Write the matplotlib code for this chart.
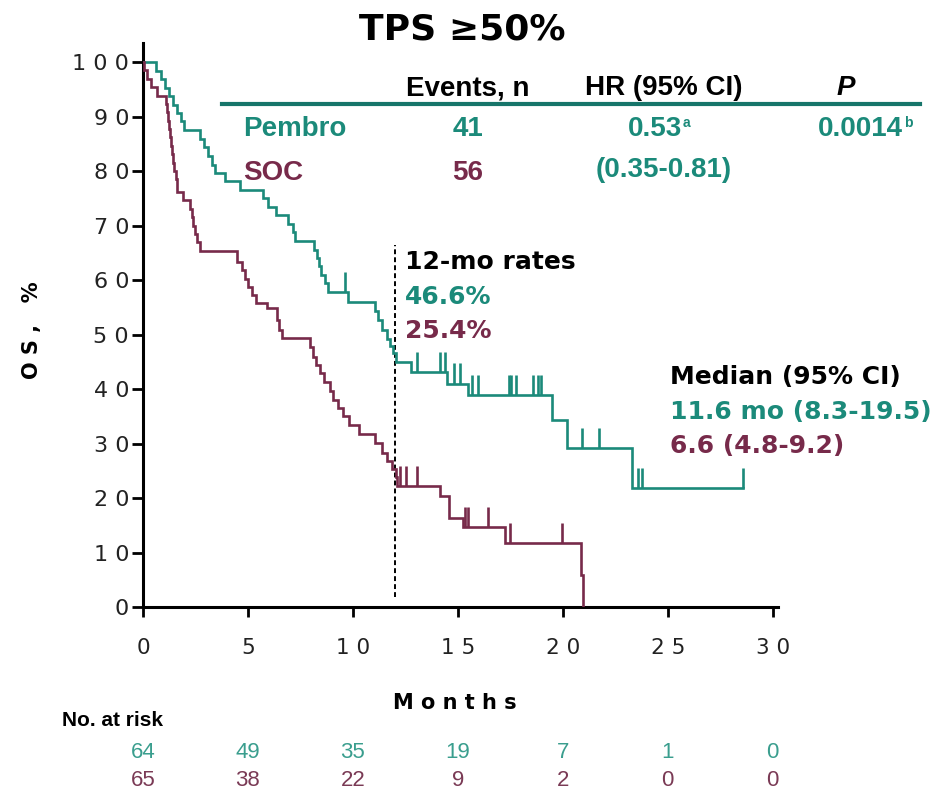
import numpy as np
import matplotlib
matplotlib.use("Agg")
import matplotlib.pyplot as plt
from matplotlib.lines import Line2D
from matplotlib.transforms import blended_transform_factory

W, H = 951, 806

TEAL = "#1b8a7a"
MAROON = "#772a4a"
RULE = "#17756a"
TEAL_RISK = "#3a9e8e"
MAROON_RISK = "#7a3a55"

# Kaplan-Meier steps: time of each change (months) and survival (%) after it
pembro_t = [0, 0.6, 0.85, 1.05, 1.25, 1.45, 1.6, 1.8, 1.95, 2.7, 2.9, 3.1, 3.3,
            3.45, 3.9, 4.6, 5.7, 5.95, 6.35, 6.9, 7.15, 7.25, 8.15, 8.3, 8.4,
            8.5, 8.65, 8.8, 9.76, 11.05, 11.2, 11.4, 11.6, 11.75, 11.9, 12.05,
            12.75, 14.5, 15.5, 19.5, 20.2, 23.3, 28.6]
pembro_s = [100, 98.4, 96.9, 95.3, 93.8, 92.2, 90.6, 89.1, 87.5, 85.9, 84.4,
            82.8, 81.2, 79.7, 78.1, 76.6, 75.0, 73.4, 71.9, 70.3, 68.8, 67.2,
            65.6, 64.1, 62.5, 60.9, 59.4, 57.8, 56.0, 54.3, 52.6, 50.9, 49.2,
            47.9, 46.6, 45.0, 43.1, 41.0, 38.9, 34.3, 29.1, 21.8, 21.8]
pembro_censor = [9.6, 13.03, 14.14, 14.38, 14.8, 15.1, 15.65, 15.95, 17.45,
                 17.55, 17.75, 18.6, 18.8, 18.95, 20.9, 21.7, 23.6, 23.75, 28.6]

soc_t = [0, 0.05, 0.2, 0.4, 0.65, 1.1, 1.15, 1.2, 1.25, 1.3, 1.35, 1.4, 1.45,
         1.5, 1.55, 1.6, 1.92, 2.24, 2.32, 2.4, 2.48, 2.56, 2.7, 4.46, 4.7,
         4.85, 5.0, 5.2, 5.4, 5.9, 6.4, 6.5, 6.6, 7.95, 8.1, 8.25, 8.45, 8.6,
         8.9, 9.06, 9.3, 9.55, 9.8, 10.3, 11.05, 11.4, 11.6, 11.85, 12.05,
         12.12, 14.14, 14.6, 15.25, 17.24, 20.85, 20.95]
soc_s = [100, 98.5, 96.9, 95.4, 93.8, 92.3, 90.8, 89.2, 87.7, 86.2, 84.6, 83.1,
         81.5, 80.0, 78.5, 76.2, 74.6, 73.0, 71.5, 70.0, 68.5, 67.0, 65.4,
         63.4, 61.8, 60.2, 58.8, 57.2, 55.7, 54.8, 52.7, 50.8, 49.3, 47.7,
         45.9, 44.4, 42.9, 41.3, 39.7, 38.0, 36.5, 35.0, 33.4, 31.8, 30.1,
         28.3, 26.8, 25.4, 23.8, 22.2, 20.3, 16.3, 14.7, 11.7, 5.9, 0.0]
soc_censor = [12.25, 12.55, 13.05, 15.35, 15.5, 16.44, 17.48, 19.94]

risk_months = [0, 5, 10, 15, 20, 25, 30]
pembro_risk = [64, 49, 35, 19, 7, 1, 0]
soc_risk = [65, 38, 22, 9, 2, 0, 0]

x_ticks = [0, 5, 10, 15, 20, 25, 30]
y_ticks = [0, 10, 20, 30, 40, 50, 60, 70, 80, 90, 100]

SANS = ["DejaVu Sans"]
ARIAL = ["Liberation Sans", "DejaVu Sans"]

fig = plt.figure(figsize=(W / 100, H / 100), dpi=100)
fig.patch.set_facecolor("white")
ax = fig.add_axes([143 / W, (H - 607) / H, 635 / W, (607 - 43) / H])
ax.set_xlim(0, 30.25)
ax.set_ylim(0, 103.5)


def step_value(t, s, x):
    i = np.searchsorted(t, x, side="right") - 1
    return s[i]


def draw_arm(t, s, cens, color):
    t = np.asarray(t)
    s = np.asarray(s)
    ax.step(t, s, where="post", color=color, lw=1.9, solid_joinstyle="miter",
            zorder=3)
    cy = np.array([step_value(t, s, c) for c in cens])
    ax.vlines(cens, cy, cy + 3.7, color=color, lw=1.9, zorder=3)


draw_arm(pembro_t, pembro_s, pembro_censor, TEAL)
draw_arm(soc_t, soc_s, soc_censor, MAROON)

# 12-month reference line
ax.plot([12, 12], [1.9, 66.4], color="black", lw=1.4, ls=(0, (2.5, 1.6)),
        zorder=2)

for side in ("top", "right"):
    ax.spines[side].set_visible(False)
for side in ("left", "bottom"):
    ax.spines[side].set_linewidth(2.2)

ax.set_xticks(x_ticks)
ax.set_xticklabels([" ".join(str(v)) for v in x_ticks], family=SANS,
                   fontsize=15.5, color="#222222")
ax.set_yticks(y_ticks)
ax.set_yticklabels([" ".join(str(v)) for v in y_ticks], family=SANS,
                   fontsize=16, color="#222222")
ax.tick_params(axis="x", direction="out", length=7, width=2, pad=15)
ax.tick_params(axis="y", direction="out", length=8, width=2, pad=2)


def ftext(px, py, s, **kw):
    fig.text(px / W, 1 - py / H, s, **kw)


ftext(462, 30, "TPS ≥50%", family=SANS, fontsize=26, fontweight="heavy",
      ha="center", va="center")

# Summary table
tab = dict(family=ARIAL, fontsize=20, fontweight="bold", va="center")
ftext(468, 88, "Events, n", ha="center", color="black", **tab)
ftext(664, 88, "HR (95% CI)", ha="center", color="black", **tab)
ftext(846, 88, "P", ha="center", color="black", style="italic", **tab)
fig.add_artist(Line2D([222 / W, 920 / W], [1 - 104 / H, 1 - 104 / H],
                      color=RULE, lw=3.0))
ftext(243, 129, "Pembro", ha="left", color=TEAL, **tab)
ftext(468, 129, "41", ha="center", color=TEAL, **tab)
ftext(682, 129, "0.53", ha="right", color=TEAL, **tab)
ftext(683, 123, "a", ha="left", color=TEAL, family=ARIAL, fontsize=10,
      fontweight="bold", va="center")
ftext(903, 129, "0.0014", ha="right", color=TEAL, **tab)
ftext(904, 123, "b", ha="left", color=TEAL, family=ARIAL, fontsize=10,
      fontweight="bold", va="center")
ftext(243, 173, "SOC", ha="left", color=MAROON, **tab)
ftext(468, 173, "56", ha="center", color=MAROON, **tab)
ftext(664, 170, "(0.35-0.81)", ha="center", color=TEAL, **tab)

# Landmark and median annotations
ann = dict(family=SANS, fontsize=18, fontweight="bold", ha="left",
           va="center")
ftext(405, 262, "12-mo rates", color="black", **ann)
ftext(405, 297, "46.6%", color=TEAL, **ann)
ftext(405, 331, "25.4%", color=MAROON, **ann)
ftext(670, 377, "Median (95% CI)", color="black", **ann)
ftext(670, 412, "11.6 mo (8.3-19.5)", color=TEAL, **ann)
ftext(670, 446, "6.6 (4.8-9.2)", color=MAROON, **ann)

# Axis titles
ftext(32, 330, "O S ,   %", family=SANS, fontsize=15, fontweight="bold",
      rotation=90, ha="center", va="center")
ftext(455, 703, "M o n t h s", family=SANS, fontsize=15, fontweight="bold",
      ha="center", va="center")

# Number at risk
ftext(62, 720, "No. at risk", family=ARIAL, fontsize=15, fontweight="bold",
      ha="left", va="center")
tr = blended_transform_factory(ax.transData, fig.transFigure)
for m, n in zip(risk_months, pembro_risk):
    ax.text(m, 1 - 752 / H, str(n), transform=tr, family=ARIAL, fontsize=16,
            color=TEAL_RISK, ha="center", va="center", clip_on=False)
for m, n in zip(risk_months, soc_risk):
    ax.text(m, 1 - 781 / H, str(n), transform=tr, family=ARIAL, fontsize=16,
            color=MAROON_RISK, ha="center", va="center", clip_on=False)

fig.savefig("out.png", dpi=100, facecolor="white")
